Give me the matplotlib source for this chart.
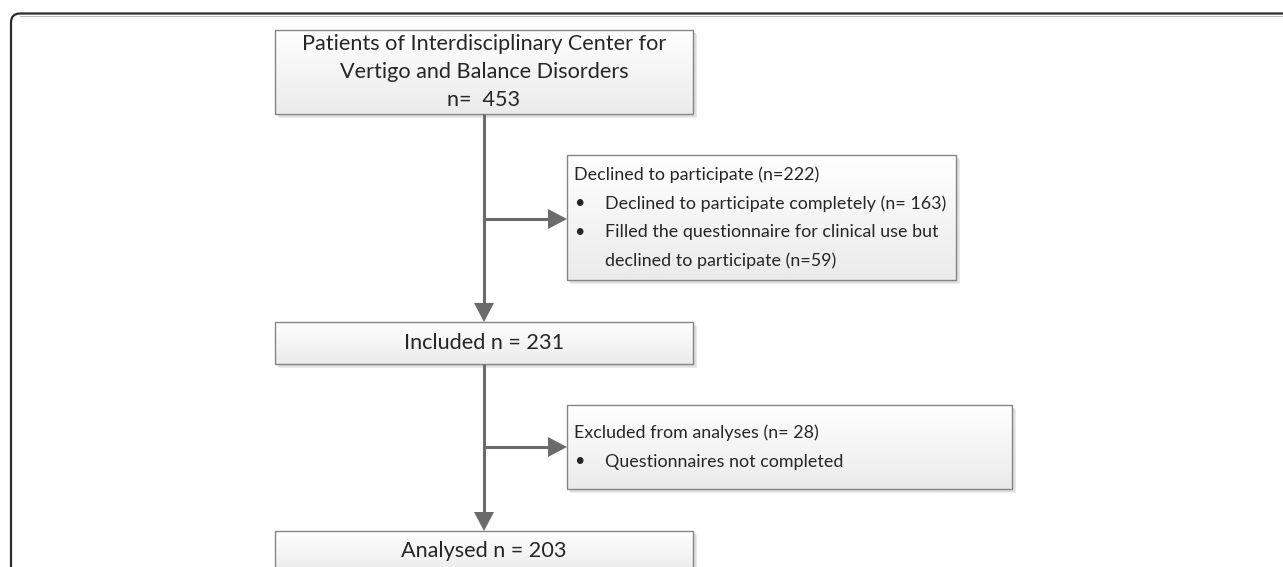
import numpy as np
import matplotlib
matplotlib.use("Agg")
import matplotlib.pyplot as plt
from matplotlib.colors import LinearSegmentedColormap
from matplotlib.patches import Rectangle, Polygon, FancyBboxPatch

plt.rcParams['font.family'] = ['Lato', 'DejaVu Sans']

# texts of the flow chart
top_lines = ["Patients of Interdisciplinary Center for",
             "Vertigo and Balance Disorders",
             "n=  453"]
included_label = "Included n = 231"
analysed_label = "Analysed n = 203"
declined_header = "Declined to participate (n=222)"
declined_items = [["Declined to participate completely (n= 163)"],
                  ["Filled the questionnaire for clinical use but",
                   "declined to participate (n=59)"]]
excluded_header = "Excluded from analyses (n= 28)"
excluded_items = [["Questionnaires not completed"]]

# layout in pixels (x0, y0, x1, y1), y grows downwards
W, H = 1283, 567
box_top = (275, 30, 693, 114)
box_declined = (567, 155, 956, 280)
box_included = (275, 322, 693, 364)
box_excluded = (567, 405, 1012, 489)
box_analysed = (275, 531, 693, 573)
spine_x = 484
FS_BIG = 15.6
FS_SMALL = 12.9
LINE = 28.5
TEXT_C = '#262626'
ARROW_C = '#6b6b6b'
EDGE_C = '#858585'

fig = plt.figure(figsize=(W / 100, H / 100), dpi=100)
ax = fig.add_axes([0, 0, 1, 1])
ax.set_xlim(0, W)
ax.set_ylim(H, 0)
ax.axis('off')

# outer rounded frame (only top-left corner visible)
frame = FancyBboxPatch((11, 13.5), 1400, 700, boxstyle="round,pad=0,rounding_size=9",
                       facecolor='none', edgecolor='#2b2b2b', linewidth=1.6, zorder=1)
ax.add_patch(frame)
ax.plot([20, W], [15.5, 15.5], color='#bdbdbd', lw=0.8, zorder=0.9)

grad = np.linspace(0, 1, 64).reshape(-1, 1)
grad_cmap = LinearSegmentedColormap.from_list('g', ['#ffffff', '#ebebeb'])


def draw_box(b):
    x0, y0, x1, y1 = b
    w, h = x1 - x0, y1 - y0
    # soft shadow
    for off, c in [(4, '#ececec'), (2.5, '#dedede')]:
        ax.add_patch(Rectangle((x0 + off, y0 + off), w, h, facecolor=c,
                               edgecolor='none', zorder=2))
    # white to light grey gradient
    ax.imshow(grad, extent=(x0, x1, y1, y0), cmap=grad_cmap, aspect='auto',
              zorder=3, interpolation='bilinear')
    ax.add_patch(Rectangle((x0, y0), w, h, facecolor='none', edgecolor=EDGE_C,
                           linewidth=1.0, zorder=4))


def arrow_down(x, y0, y1):
    ax.plot([x, x], [y0, y1 - 18], color=ARROW_C, lw=2.2, zorder=5, solid_capstyle='butt')
    ax.add_patch(Polygon([[x - 10, y1 - 19], [x + 10, y1 - 19], [x, y1]],
                         closed=True, facecolor=ARROW_C, edgecolor='none', zorder=5))


def arrow_right(y, x0, x1):
    ax.plot([x0, x1 - 18], [y, y], color=ARROW_C, lw=2.2, zorder=5, solid_capstyle='butt')
    ax.add_patch(Polygon([[x1 - 19, y - 10], [x1 - 19, y + 10], [x1, y]],
                         closed=True, facecolor=ARROW_C, edgecolor='none', zorder=5))


def centered_lines(b, lines):
    x0, y0, x1, y1 = b
    cx = (x0 + x1) / 2
    cy = (y0 + y1) / 2
    n = len(lines)
    for i, t in enumerate(lines):
        y = cy + (i - (n - 1) / 2) * LINE
        ax.text(cx, y, t, ha='center', va='center', fontsize=FS_BIG, color=TEXT_C, zorder=6)


def bullet_box(b, header, items, top):
    x0 = b[0]
    y = top
    ax.text(x0 + 7, y, header, ha='left', va='center', fontsize=FS_SMALL, color=TEXT_C, zorder=6)
    for item in items:
        y += LINE
        ax.text(x0 + 12, y, u'\u2022', ha='center', va='center', fontsize=FS_SMALL,
                color=TEXT_C, zorder=6)
        for j, t in enumerate(item):
            if j:
                y += LINE
            ax.text(x0 + 38, y, t, ha='left', va='center', fontsize=FS_SMALL, color=TEXT_C, zorder=6)


for b in [box_top, box_declined, box_included, box_excluded, box_analysed]:
    draw_box(b)

arrow_down(spine_x, box_top[3], box_included[1])
arrow_down(spine_x, box_included[3], box_analysed[1])
arrow_right(219, spine_x, box_declined[0])
arrow_right(447, spine_x, box_excluded[0])

centered_lines(box_top, top_lines)
centered_lines(box_included, [included_label])
ax.text(spine_x, 551, analysed_label, ha='center', va='center', fontsize=FS_BIG, color=TEXT_C, zorder=6)
bullet_box(box_declined, declined_header, declined_items, 175)
bullet_box(box_excluded, excluded_header, excluded_items, 433)

fig.savefig('out.png', dpi=100)
